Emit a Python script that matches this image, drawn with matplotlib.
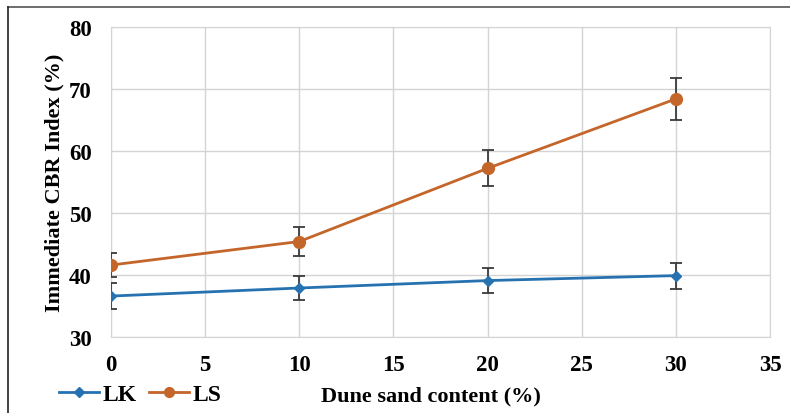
import matplotlib
matplotlib.use("Agg")
import matplotlib.pyplot as plt
from matplotlib.lines import Line2D

sand_content = [0, 10, 20, 30]
lk_values = [36.6, 37.9, 39.1, 39.9]
lk_err = [2.1, 2.0, 2.0, 2.1]
ls_values = [41.6, 45.4, 57.2, 68.4]
ls_err = [2.0, 2.3, 2.9, 3.4]
x_ticks = [0, 5, 10, 15, 20, 25, 30, 35]
y_ticks = [30, 40, 50, 60, 70, 80]

plt.rcParams['font.family'] = ['Liberation Serif', 'DejaVu Serif']
plt.rcParams['font.weight'] = 'bold'

fig = plt.figure(figsize=(7.9, 4.14), dpi=100)
ax = fig.add_axes([0.1405, 0.1836, 0.8342, 0.7488])

blue = '#2672b0'
orange = '#c4652a'
errc = '#3a3a3a'

ax.errorbar(sand_content, lk_values, yerr=lk_err, color=blue, lw=2.0, marker='D',
            ms=5.5, ecolor=errc, elinewidth=1.3, capsize=4, capthick=1.3, zorder=3)
ax.errorbar(sand_content, ls_values, yerr=ls_err, color=orange, lw=2.0, marker='o',
            ms=8.5, ecolor=errc, elinewidth=1.3, capsize=4, capthick=1.3, zorder=3)

ax.set_xlim(0, 35)
ax.set_ylim(30, 80)
ax.set_xticks(x_ticks)
ax.set_yticks(y_ticks)
ax.grid(True, color='#d4d4d4', lw=1)
ax.set_axisbelow(True)
for s in ax.spines.values():
    s.set_color('#d4d4d4')
ax.tick_params(length=0, labelsize=16.5)
ax.tick_params(axis='x', pad=12)
ax.tick_params(axis='y', pad=14)
for lab in ax.get_xticklabels() + ax.get_yticklabels():
    lab.set_fontweight('bold')

ax.set_xlabel('Dune sand content (%)', fontsize=16, fontweight='bold')
ax.xaxis.set_label_coords(0.486, -0.158)
ax.set_ylabel('Immediate CBR Index (%)', fontsize=16, fontweight='bold')
ax.yaxis.set_label_coords(-0.07, 0.5)

handles = [Line2D([], [], color=blue, lw=2, marker='D', ms=5),
           Line2D([], [], color=orange, lw=2, marker='o', ms=7)]
fig.legend(handles, ['LK', 'LS'], loc='center left', bbox_to_anchor=(0.048, 0.045),
           ncol=2, frameon=False, prop={'size': 17, 'weight': 'bold'},
           handlelength=1.7, handletextpad=0.15, columnspacing=0.5)

fig.add_artist(Line2D([0.0101, 1.0], [0.981, 0.981], transform=fig.transFigure, color='#555555', lw=1.2))
fig.add_artist(Line2D([0.0101, 0.0101], [0.0, 0.981], transform=fig.transFigure, color='#222222', lw=1.2))

fig.savefig('out.png', dpi=100)
